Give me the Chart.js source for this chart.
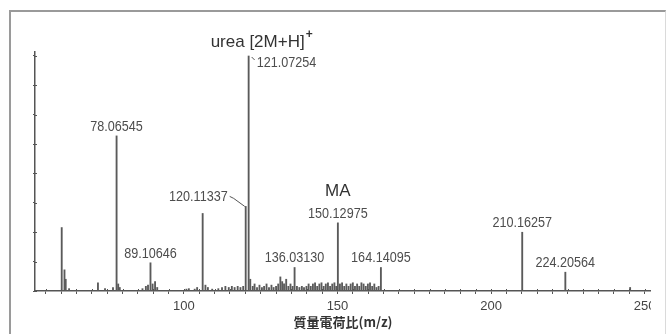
<!DOCTYPE html>
<html>
<head>
<meta charset="utf-8">
<script src="https://cdn.jsdelivr.net/npm/chart.js@4/dist/chart.umd.min.js"></script>
<style>
  html, body { margin: 0; padding: 0; background: #fff; }
  #wrap { position: relative; width: 667px; height: 334px; overflow: hidden; }
  #frame { position: absolute; left: 9px; top: 10px; width: 654px; height: 330px;
           border-top: 2px solid #9a9a9a; border-left: 2px solid #9a9a9a; border-right: 1px solid #dadada; }
  #spectrum { position: absolute; left: 0; top: 0; }
</style>
</head>
<body>
<div id="wrap">
  <div id="frame"></div>
  <canvas id="spectrum" width="651" height="334"></canvas>
</div>
<script>
// Mass spectrum: m/z of each peak and its relative intensity (%)
const mzValues = [
  60.2, 61.1, 61.5, 62.6, 72.0, 74.3, 76.9, 78.06545, 78.6, 79.1,
  86.5, 87.6, 88.3, 89.10646, 89.8, 90.6, 91.3,
  100.8, 101.6, 103.5, 104.3, 106.1, 107.0, 107.8, 109.2,
  111.2, 112.4, 113.5, 114.6, 115.6, 116.5, 117.5, 118.4, 119.3, 120.11337, 121.07254,
  121.6, 122.4, 123.0, 123.8, 124.6, 125.4, 126.1, 126.9, 127.7, 128.5, 129.2, 130.0,
  130.7, 131.4, 132.0, 132.6, 133.3, 134.0, 134.7, 135.4, 136.03130, 136.8, 137.6,
  138.4, 139.1, 139.9, 140.6, 141.3, 142.0, 142.7, 143.4, 144.1, 144.8, 145.5, 146.2,
  146.9, 147.6, 148.3, 149.0, 149.6, 150.12975, 150.8, 151.5, 152.2, 152.9, 153.6,
  154.3, 155.0, 155.7, 156.4, 157.1, 157.8, 158.5, 159.2, 159.9, 160.6, 161.3, 162.0,
  162.7, 163.4, 164.14095,
  210.16257, 224.20564, 245.3
];
const intensities = [
  27, 9, 5, 1, 3.5, 1, 1.5, 66, 3, 1.5,
  1, 2, 2.5, 12, 3, 4, 1.5,
  0.8, 1, 0.8, 1.5, 33, 2.5, 1.5, 0.8,
  1, 1.5, 2, 1.5, 2, 1.5, 2, 1.5, 2, 36, 100,
  5, 2, 3, 1.5, 2.5, 1.5, 2, 3, 1.5, 2.5, 1.5, 2,
  3, 6, 4, 3, 5, 2, 3, 2, 10, 2, 1.5,
  2, 1.5, 2, 3, 2, 3, 3.5, 2, 3, 3.5, 2, 3,
  3.5, 2, 3, 3.5, 2, 29, 3, 3.5, 2, 3, 2,
  3, 3.5, 2, 3, 2, 3.5, 3, 2, 3, 3.5, 2, 3,
  1.5, 2, 10,
  25, 8, 1.5
];
// Peaks annotated with their exact m/z
const labeledPeaks = [78.06545, 89.10646, 120.11337, 121.07254, 136.03130, 150.12975, 164.14095, 210.16257, 224.20564];
// Compound assignments written above their peaks
const compoundNames = ['urea [2M+H]', 'MA'];
const compoundPeaks = [121.07254, 150.12975];
const tickLabels = [100, 150, 200, 250];
const xAxisTitle = '質量電荷比(m/z)';

const points = mzValues.map((m, i) => ({ x: m, y: intensities[i] }));

function narrowText(ctx, text, x, y, align, squeeze) {
  ctx.save();
  ctx.translate(x, y);
  ctx.scale(squeeze, 1);
  ctx.textAlign = align;
  ctx.fillText(text, 0, 0);
  ctx.restore();
}

const peakLabels = {
  id: 'peakLabels',
  afterDatasetsDraw(chart) {
    const ctx = chart.ctx;
    const xs = chart.scales.x, ys = chart.scales.y;
    ctx.save();
    ctx.textBaseline = 'middle';
    ctx.strokeStyle = '#555';
    ctx.lineWidth = 1;
    ctx.fillStyle = '#4d4d4d';
    ctx.font = '14px "Liberation Sans", Arial, sans-serif';
    labeledPeaks.forEach(mz => {
      const i = mzValues.indexOf(mz);
      const x = xs.getPixelForValue(mz);
      const top = ys.getPixelForValue(intensities[i]);
      const text = mz.toFixed(5);
      if (mz === 120.11337) {
        narrowText(ctx, text, x - 18, top - 9, 'right', 0.9);
        ctx.beginPath();
        ctx.moveTo(x - 16, top - 10);
        ctx.lineTo(x - 12, top - 8);
        ctx.lineTo(x - 1, top);
        ctx.stroke();
      } else if (mz === 121.07254) {
        narrowText(ctx, text, x + 8, top + 7, 'left', 0.9);
        ctx.beginPath();
        ctx.moveTo(x + 3, top + 1);
        ctx.lineTo(x + 6, top + 4);
        ctx.stroke();
      } else {
        narrowText(ctx, text, x, top - 9, 'center', 0.9);
      }
    });

    ctx.fillStyle = '#333';
    compoundPeaks.forEach((mz, k) => {
      const i = mzValues.indexOf(mz);
      const x = xs.getPixelForValue(mz);
      const top = ys.getPixelForValue(intensities[i]);
      ctx.font = '17px "Liberation Sans", Arial, sans-serif';
      if (k === 0) {
        ctx.textAlign = 'left';
        const left = x - 38;
        ctx.fillText(compoundNames[k], left, top - 14);
        const w = ctx.measureText(compoundNames[k]).width;
        ctx.font = 'bold 12px "Liberation Sans", Arial, sans-serif';
        ctx.fillText('+', left + w + 1, top - 21);
      } else {
        ctx.textAlign = 'center';
        ctx.fillText(compoundNames[k], x, top - 32);
      }
    });
    ctx.restore();
  }
};

// Short marks that cross the axis line above it, as the spectrometer software draws them
const crossTicks = {
  id: 'crossTicks',
  afterDraw(chart) {
    const ctx = chart.ctx;
    const xs = chart.scales.x, ys = chart.scales.y;
    const base = chart.chartArea.bottom;
    ctx.save();
    ctx.strokeStyle = '#555';
    ctx.lineWidth = 1;
    ctx.beginPath();
    xs.ticks.forEach(t => {
      const px = Math.round(xs.getPixelForValue(t.value)) + 0.5;
      ctx.moveTo(px, base - 2);
      ctx.lineTo(px, base);
    });
    const left = chart.chartArea.left;
    ys.ticks.forEach(t => {
      const py = Math.round(ys.getPixelForValue(t.value)) + 0.5;
      ctx.moveTo(left, py);
      ctx.lineTo(left + 2, py);
    });
    ctx.stroke();
    ctx.restore();
  }
};

new Chart(document.getElementById('spectrum'), {
  type: 'bar',
  data: {
    datasets: [{
      data: points,
      backgroundColor: '#5a5a5a',
      borderWidth: 0,
      barThickness: 1.2
    }]
  },
  options: {
    responsive: false,
    animation: false,
    layout: { padding: { top: 52, left: 0, right: 0, bottom: 0 } },
    plugins: { legend: { display: false }, tooltip: { enabled: false } },
    scales: {
      x: {
        type: 'linear',
        min: 51.5,
        max: 252.1,
        offset: false,
        grid: { display: true, drawOnChartArea: false, drawTicks: true, tickLength: 3, color: '#555', lineWidth: 1, offset: false },
        border: { display: true, color: '#555', width: 1.5 },
        ticks: {
          stepSize: 5,
          includeBounds: false,
          autoSkip: false,
          maxRotation: 0,
          minRotation: 0,
          padding: 5,
          color: '#444',
          font: { family: '"Liberation Sans", Arial, sans-serif', size: 13 },
          callback: v => tickLabels.includes(v) ? String(v) : ''
        },
        title: {
          display: true,
          text: xAxisTitle,
          color: '#333',
          font: { family: '"Noto Sans CJK JP", sans-serif', size: 13, weight: 'bold' },
          padding: { top: 0, bottom: 4 }
        },
        afterFit: s => { s.height = 43; s.paddingLeft = 0; s.paddingRight = 0; }
      },
      y: {
        min: 0,
        max: 101.7,
        grid: { display: true, drawOnChartArea: false, drawTicks: true, tickLength: 2, color: '#555' },
        border: { display: true, color: '#555', width: 1.5 },
        ticks: { stepSize: 12.5, includeBounds: false, callback: () => '' },
        afterFit: s => { s.width = 35; s.paddingTop = 0; s.paddingBottom = 0; }
      }
    }
  },
  plugins: [peakLabels, crossTicks]
});
</script>
</body>
</html>
